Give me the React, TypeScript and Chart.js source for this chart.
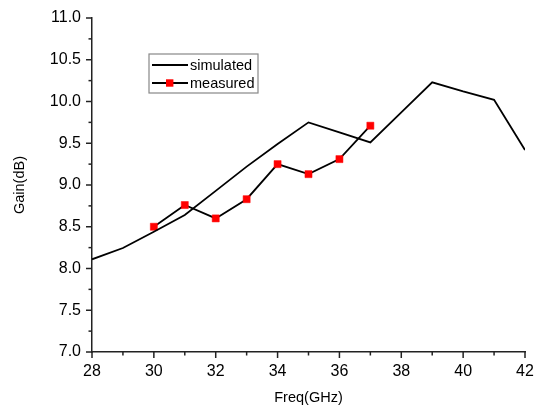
import React, { useEffect, useRef } from "react";
import { Chart, registerables } from "chart.js";

Chart.register(...registerables);

const freqSim = [28, 29, 30, 31, 32, 33, 34, 35, 36, 37, 38, 39, 40, 41, 42];
const simulated = [8.11, 8.245, 8.44, 8.64, 8.93, 9.22, 9.49, 9.75, 9.63, 9.51, 9.87, 10.23, 10.12, 10.02, 9.42];
const freqMeas = [30, 31, 32, 33, 34, 35, 36, 37];
const measured = [8.5, 8.76, 8.6, 8.83, 9.25, 9.13, 9.31, 9.71];
const seriesNames = ["simulated", "measured"];

const FONT = "Arial, 'Liberation Sans', Helvetica, sans-serif";

const tickPlugin = {
  id: "customTicks",
  afterDraw(chart: any) {
    const ctx = chart.ctx;
    const xs = chart.scales.x;
    const ys = chart.scales.y;
    ctx.save();
    ctx.strokeStyle = "#222";
    ctx.lineWidth = 1.5;
    const bottom = chart.chartArea.bottom;
    const left = chart.chartArea.left;
    xs.ticks.forEach((t: any) => {
      const px = xs.getPixelForValue(t.value);
      const major = Math.abs(t.value % 2) < 1e-6;
      const len = major ? 6 : 3.5;
      ctx.beginPath();
      ctx.moveTo(px, bottom);
      ctx.lineTo(px, bottom + len);
      ctx.stroke();
    });
    ys.ticks.forEach((t: any) => {
      const py = ys.getPixelForValue(t.value);
      const major = Math.abs(t.value * 2 - Math.round(t.value * 2)) < 1e-6;
      const len = major ? 6 : 3.5;
      ctx.beginPath();
      ctx.moveTo(left, py);
      ctx.lineTo(left - len, py);
      ctx.stroke();
    });
    ctx.restore();
  },
};

const legendPlugin = {
  id: "boxLegend",
  afterDraw(chart: any) {
    const ctx = chart.ctx;
    const bx = 149, by = 54, bw = 109, bh = 39;
    ctx.save();
    ctx.fillStyle = "#fff";
    ctx.fillRect(bx, by, bw, bh);
    ctx.strokeStyle = "#888";
    ctx.lineWidth = 1.2;
    ctx.strokeRect(bx, by, bw, bh);
    ctx.font = `14.5px ${FONT}`;
    ctx.textBaseline = "middle";
    const rows = [65, 83];
    chart.data.datasets.forEach((ds: any, i: number) => {
      const y = rows[i];
      ctx.strokeStyle = ds.borderColor;
      ctx.lineWidth = 1.8;
      ctx.beginPath();
      ctx.moveTo(152, y);
      ctx.lineTo(188, y);
      ctx.stroke();
      if (ds.pointRadius > 0) {
        ctx.fillStyle = ds.pointBackgroundColor;
        ctx.fillRect(166, y - 3.7, 7.4, 7.4);
      }
      ctx.fillStyle = "#000";
      ctx.fillText(ds.label, 190, y + 0.5);
    });
    ctx.restore();
  },
};

export default function App() {
  const ref = useRef<HTMLCanvasElement | null>(null);
  useEffect(() => {
    document.body.style.margin = "0";
    if (!ref.current) return;
    const chart = new Chart(ref.current, {
      type: "line",
      data: {
        datasets: [
          {
            label: seriesNames[0],
            data: freqSim.map((x, i) => ({ x, y: simulated[i] })),
            borderColor: "#000",
            borderWidth: 1.8,
            pointRadius: 0,
            tension: 0,
          },
          {
            label: seriesNames[1],
            data: freqMeas.map((x, i) => ({ x, y: measured[i] })),
            borderColor: "#000",
            borderWidth: 1.8,
            pointStyle: "rect",
            pointRadius: 5,
            pointBackgroundColor: "#ff0000",
            pointBorderColor: "#ff0000",
            pointBorderWidth: 0.5,
            tension: 0,
          },
        ],
      },
      options: {
        animation: false,
        responsive: false,
        maintainAspectRatio: false,
        layout: { padding: { top: 18, right: 16, left: 0, bottom: 0 } },
        plugins: {
          legend: { display: false },
          tooltip: { enabled: false },
        },
        scales: {
          x: {
            type: "linear",
            min: 28,
            max: 42,
            afterFit: (s: any) => {
              s.height = 57;
            },
            ticks: {
              stepSize: 1,
              autoSkip: false,
              maxRotation: 0,
              padding: 4,
              color: "#000",
              font: { family: FONT, size: 16 },
              callback: (v: any) => (Number(v) % 2 === 0 ? String(v) : ""),
            },
            grid: {
              display: true,
              drawOnChartArea: false,
              drawTicks: true,
              tickLength: 6,
              color: "rgba(0,0,0,0)",
            },
            border: { display: true, color: "#222", width: 1.5 },
            title: {
              display: true,
              text: "Freq(GHz)",
              color: "#000",
              font: { family: FONT, size: 14.5 },
              padding: { top: 0, bottom: 2 },
            },
          },
          y: {
            type: "linear",
            min: 7,
            max: 11,
            afterFit: (s: any) => {
              s.width = 92;
            },
            ticks: {
              stepSize: 0.25,
              autoSkip: false,
              padding: 5,
              color: "#000",
              font: { family: FONT, size: 16 },
              callback: (v: any) => {
                const n = Number(v);
                return Math.abs(n * 2 - Math.round(n * 2)) < 1e-6 ? n.toFixed(1) : "";
              },
            },
            grid: {
              display: true,
              drawOnChartArea: false,
              drawTicks: true,
              tickLength: 6,
              color: "rgba(0,0,0,0)",
            },
            border: { display: true, color: "#222", width: 1.5 },
            title: {
              display: true,
              text: "Gain(dB)",
              color: "#000",
              font: { family: FONT, size: 14.5 },
              padding: { top: 11.5, bottom: 0 },
            },
          },
        },
      },
      plugins: [tickPlugin, legendPlugin],
    });
    return () => chart.destroy();
  }, []);
  return (
    <div style={{ width: 541, height: 409 }}>
      <canvas ref={ref} width={541} height={409} style={{ display: "block" }} />
    </div>
  );
}
